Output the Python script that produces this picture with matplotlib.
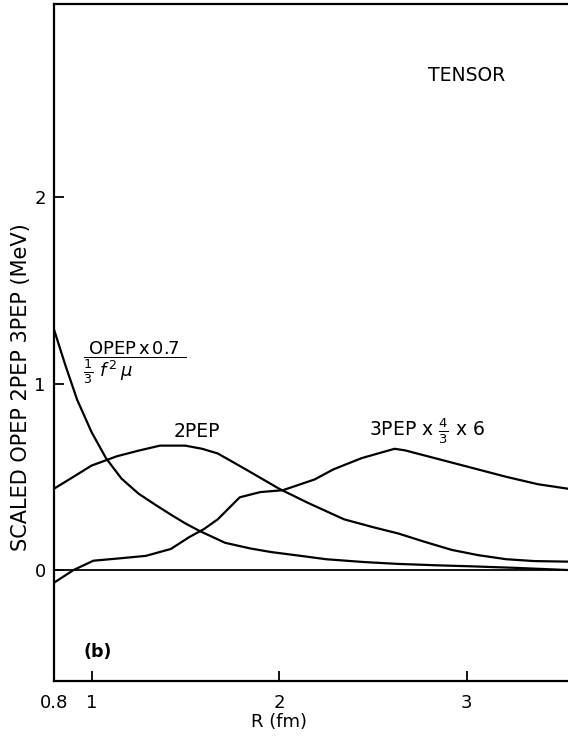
import matplotlib
matplotlib.use("Agg")
import matplotlib.pyplot as plt

plt.rcParams['font.family'] = ['DejaVu Sans']
plt.rcParams['mathtext.fontset'] = 'dejavusans'

# OPEP x 0.7 / (1/3 f^2 mu)
r_opep = [0.80, 0.86, 0.923, 1.00, 1.077, 1.16, 1.25, 1.34, 1.423, 1.50, 1.577, 1.712, 1.85, 1.96, 2.10, 2.25, 2.45, 2.63, 2.85, 3.02, 3.25, 3.54]
v_opep = [1.29, 1.10, 0.914, 0.74, 0.60, 0.49, 0.41, 0.35, 0.297, 0.25, 0.209, 0.146, 0.115, 0.096, 0.078, 0.058, 0.043, 0.033, 0.025, 0.02, 0.012, 0.0]

# 2PEP
r_2pep = [0.80, 0.904, 1.00, 1.135, 1.25, 1.365, 1.50, 1.59, 1.673, 1.827, 2.00, 2.154, 2.346, 2.50, 2.635, 2.78, 2.92, 3.06, 3.21, 3.36, 3.54]
v_2pep = [0.436, 0.50, 0.56, 0.61, 0.64, 0.667, 0.667, 0.65, 0.625, 0.537, 0.436, 0.36, 0.272, 0.23, 0.196, 0.15, 0.108, 0.08, 0.058, 0.048, 0.045]

# 3PEP x 4/3 x 6
r_3pep = [0.80, 0.904, 1.01, 1.154, 1.29, 1.423, 1.52, 1.60, 1.673, 1.79, 1.90, 2.02, 2.19, 2.29, 2.44, 2.615, 2.67, 2.83, 3.02, 3.21, 3.38, 3.54]
v_3pep = [-0.068, 0.0, 0.05, 0.063, 0.076, 0.113, 0.176, 0.22, 0.272, 0.39, 0.418, 0.428, 0.486, 0.54, 0.60, 0.65, 0.642, 0.60, 0.55, 0.50, 0.46, 0.436]

x_ticks = [0.8, 1, 2, 3]
x_ticklabels = ['0.8', '1', '2', '3']
y_ticks = [0, 1, 2]
y_ticklabels = ['0', '1', '2']

fig = plt.figure(figsize=(5.68, 7.36), dpi=100)
ax = fig.add_axes([54/568, 1-681/736, 1-54/568, (681-4)/736])

lw = 1.6
ax.plot(r_opep, v_opep, color='black', lw=lw)
ax.plot(r_2pep, v_2pep, color='black', lw=lw)
ax.plot(r_3pep, v_3pep, color='black', lw=lw)
ax.axhline(0, color='black', lw=1.3)

ax.set_xlim(0.8, 3.54)
ax.set_ylim(-0.595, 3.035)

ax.spines['right'].set_visible(False)
for s in ['left', 'top', 'bottom']:
    ax.spines[s].set_linewidth(1.6)

ax.set_xticks(x_ticks)
ax.set_xticklabels(x_ticklabels)
ax.set_yticks(y_ticks)
ax.set_yticklabels(y_ticklabels)
ax.tick_params(axis='both', direction='in', length=7, width=1.3, labelsize=13)
ax.tick_params(axis='x', pad=9)
ax.tick_params(axis='y', pad=6)

ax.set_xlabel('R (fm)', fontsize=13)
ax.xaxis.set_label_coords((2 - 0.8) / (3.54 - 0.8), -0.048)
ax.set_ylabel('SCALED OPEP 2PEP 3PEP (MeV)', fontsize=15, va='center')
ax.yaxis.set_label_coords(-0.064, 0.434)

ax.text(3.0, 2.65, 'TENSOR', fontsize=13.5, ha='center', va='center')
ax.text(0.955, 1.11, r'$\dfrac{\mathrm{OPEP\,x\,0.7}}{\frac{1}{3}\ f^{\,2}\,\mu\qquad\quad}$',
        fontsize=13, ha='left', va='center')
ax.text(1.56, 0.745, '2PEP', fontsize=13.5, ha='center', va='center')
ax.text(2.48, 0.745, r'3PEP x $\frac{4}{3}$ x 6', fontsize=13.5, ha='left', va='center')
ax.text(1.035, -0.44, '(b)', fontsize=12.5, ha='center', va='center', fontweight='bold')

fig.savefig('out.png', dpi=100)
